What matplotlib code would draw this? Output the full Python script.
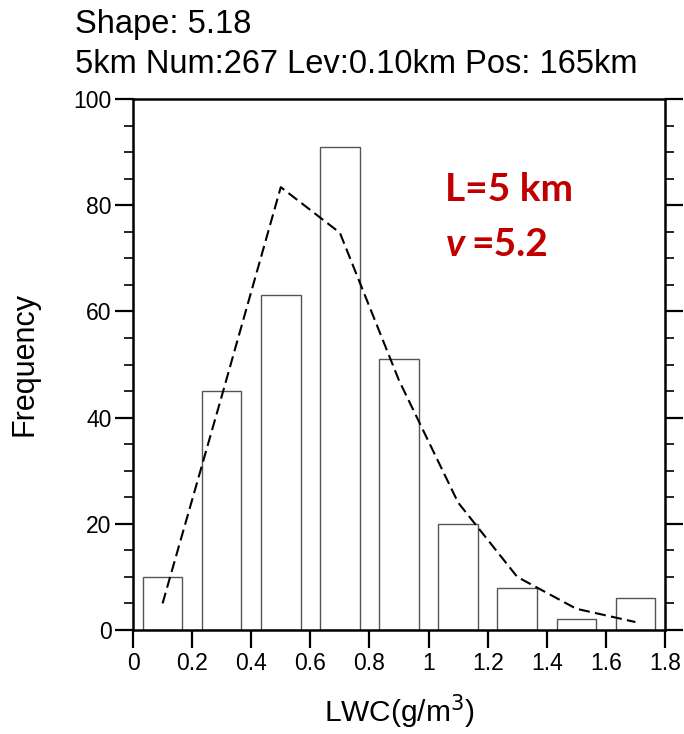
import matplotlib
matplotlib.use("Agg")
import matplotlib.pyplot as plt

plt.rcParams['font.family'] = ['Liberation Sans', 'DejaVu Sans']
plt.rcParams['lines.scale_dashes'] = False

# histogram of LWC
bin_centers = [0.1, 0.3, 0.5, 0.7, 0.9, 1.1, 1.3, 1.5, 1.7]
counts = [10, 45, 63, 91, 51, 20, 8, 2, 6]
# fitted curve (dashed)
fit_vals = [5, 44, 83.4, 74.8, 47, 24, 10, 4, 1.5]

x_ticks = [0, 0.2, 0.4, 0.6, 0.8, 1, 1.2, 1.4, 1.6, 1.8]
x_ticklabels = ['0', '0.2', '0.4', '0.6', '0.8', '1', '1.2', '1.4', '1.6', '1.8']
y_ticks = [0, 20, 40, 60, 80, 100]

W, H = 684, 734
fig = plt.figure(figsize=(W / 100, H / 100), dpi=100)
ax = fig.add_axes([133 / W, 1 - 630 / H, 532 / W, 531 / H])

ax.bar(bin_centers, counts, width=0.134, facecolor='white',
       edgecolor='#555555', linewidth=1.0, zorder=2)
ax.plot(bin_centers, fit_vals, color='black', linewidth=1.5,
        linestyle=(0, (8, 3.8)), zorder=3)

ax.set_xlim(0, 1.8)
ax.set_ylim(0, 100)
ax.set_xticks(x_ticks)
ax.set_xticklabels(x_ticklabels)
ax.set_yticks(y_ticks)
ax.set_yticks(range(0, 101, 5), minor=True)

for s in ax.spines.values():
    s.set_linewidth(1.8)

ax.tick_params(axis='both', which='major', direction='out', length=13,
               width=1.6, labelsize=16.5, pad=2.5)
ax.tick_params(axis='y', which='both', right=True, left=True)
ax.tick_params(axis='y', which='minor', direction='out', length=6.5, width=1.2)
ax.tick_params(axis='x', which='both', top=False)

ax.set_xlabel('LWC(g/m$^3$)', fontsize=21.5)
ax.set_ylabel('Frequency', fontsize=22)
ax.xaxis.set_label_coords(0.5, -0.118)
ax.yaxis.set_label_coords(-0.176, 0.5)

fig.text(75 / W, 1 - 33 / H, 'Shape: 5.18', fontsize=23.5, va='baseline', ha='left')
fig.text(75 / W, 1 - 73 / H, '5km Num:267 Lev:0.10km Pos: 165km', fontsize=23.5,
         va='baseline', ha='left')

red = '#C00000'
fig.text(445 / W, 1 - 201 / H, 'L=5 km', fontsize=28, fontweight='bold',
         color=red, family='Lato', va='baseline', ha='left')
fig.text(446 / W, 1 - 256 / H, 'v', fontsize=28, fontweight='bold', style='italic',
         color=red, family='Lato', va='baseline', ha='left')
fig.text(471 / W, 1 - 256 / H, '=5.2', fontsize=28, fontweight='bold',
         color=red, family='Lato', va='baseline', ha='left')

fig.savefig('out.png', dpi=100, facecolor='white')
